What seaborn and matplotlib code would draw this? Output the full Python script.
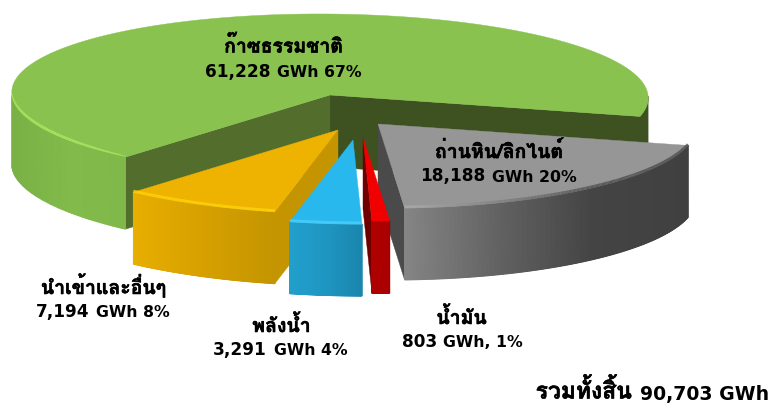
import numpy as np
import matplotlib
matplotlib.use("Agg")
import matplotlib.pyplot as plt
import matplotlib.patheffects as pe
from matplotlib.patches import Polygon
from matplotlib.collections import LineCollection
import seaborn as sns

# --- data -----------------------------------------------------------------
categories = ["ก๊าซธรรมชาติ", "ถ่านหิน/ลิกไนต์", "น้ำมัน", "พลังน้ำ", "นำเข้าและอื่นๆ"]
values = [61228, 18188, 803, 3291, 7194]
value_labels = ["61,228", "18,188", "803", "3,291", "7,194"]
share_labels = ["GWh 67%", "GWh 20%", "GWh, 1%", "GWh 4%", "GWh 8%"]
total_name = "รวมทั้งสิ้น"
total_value = "90,703 GWh"

# --- styles ---------------------------------------------------------------
top_colors = ["#89C24F", "#969696", "#F00000", "#29B8EE", "#EEB200"]
wall_stops = [["#7AB146", "#82BA4B", "#80B84A"], ["#858585", "#626262", "#444444", "#404040"],
              ["#B00000", "#A80000"], ["#229FCC", "#1F96C2", "#1A86AD"],
              ["#E8AE00", "#D6A000", "#C49500"]]
face_colors = [["#3D5220", "#526D2C"], ["#4A4A4A", "#4A4A4A"], ["#6E0000", "#6E0000"],
               ["#1A86AD", "#1A86AD"], ["#C49500", "#C49500"]]
rim_stops = [["#A4E25E", "#A4E25E"], ["#A8A8A8", "#5A5A5A", "#4A4A4A"], None,
             ["#52D4FF", "#52D4FF"], ["#FFD60A", "#FFD60A"]]
apex_x = [330, 378, 363, 353, 338]
apex_y = [95, 124, 137, 140, 130]
name_x = [283.5, 499, 461.5, 281.5, 103.5]
name_y = [52.5, 158, 324, 332, 294]
value_y = [77, 181.5, 347, 355, 317]
value_right = [270, 485, 437, 267, 89]
share_left = [277, 492, 443, 274, 96]

A, B, SHEAR, K, DEPTH = 318.0, 82.5, 11.0, 0.018, 72.0
START_DEG = -15.0
THAI = ["Loma", "DejaVu Sans"]
LATIN = ["DejaVu Sans"]
HEAVY = [pe.withStroke(linewidth=0.4, foreground="black")]

sns.set_theme(style="white")
plt.rcParams["font.family"] = THAI
fig = plt.figure(figsize=(7.71, 4.03), dpi=100)
ax = fig.add_axes([0, 0, 1, 1])
ax.axis("off")


def project(cx, cy, deg, r=1.0):
    t = np.radians(deg)
    u, v = r * np.cos(t), r * np.sin(t)
    return cx + A * u - SHEAR * v, cy - B * v / (1 + K * v)


def draw_wall(i, a, z, flat=None):
    cx, cy = apex_x[i], apex_y[i]
    x, y = project(cx, cy, a)
    if flat is not None:
        ax.add_patch(Polygon(np.r_[np.c_[x, y], np.c_[x, y + DEPTH][::-1]], closed=True,
                             fc=flat, ec=flat, lw=0.3, zorder=z))
        return
    X = np.vstack([x, x])
    Y = np.vstack([y, y + DEPTH])
    C = np.vstack([x, x])
    cmap = sns.blend_palette(wall_stops[i], 128, as_cmap=True)
    ax.pcolormesh(X, Y, C, cmap=cmap, shading="gouraud", zorder=z, antialiased=True)


def draw_rim(i, a, z, taper=False):
    if rim_stops[i] is None:
        return
    cx, cy = apex_x[i], apex_y[i]
    x, y = project(cx, cy, a)
    pts = np.c_[x, y - 1.0]
    segs = np.stack([pts[:-1], pts[1:]], axis=1)
    frac = np.linspace(0, 1, len(segs))
    pal = sns.blend_palette(rim_stops[i], 64)
    order = frac if x[-1] > x[0] else 1 - frac
    cols = [pal[int(f * 63)] for f in order]
    widths = 0.5 + 1.6 * np.sin(np.pi * frac) ** 0.6 if taper else np.full(len(segs), 2.1)
    ax.add_collection(LineCollection(segs, colors=cols, linewidths=widths, capstyle="butt", zorder=z))


def draw_slice(i, a0, a1, z):
    cx, cy = apex_x[i], apex_y[i]
    angs = np.linspace(a0, a1, 240)
    xs, ys = project(cx, cy, angs)

    # cut faces that look towards the viewer
    mx, my = project(cx, cy, (a0 + a1) / 2)
    mx, my = mx - cx, my - cy
    for k, ang in enumerate((a0, a1)):
        ex, ey = project(cx, cy, ang)
        dx, dy = ex - cx, ey - cy
        nx, ny = dy, -dx
        if nx * mx + ny * my > 0:
            nx, ny = -nx, -ny
        if ny > 0:
            ax.add_patch(Polygon([(cx, cy), (ex, ey), (ex, ey + DEPTH), (cx, cy + DEPTH)],
                                 closed=True, fc=face_colors[i][k], ec=face_colors[i][k],
                                 lw=0.3, zorder=z))

    # outer wall: the front half only
    s = np.sin(np.radians(angs))
    if i == 0:
        right = angs[(s < 0) & (angs < 90)]
        left = angs[(s < 0) & (angs > 90)]
        draw_wall(i, right, z + 0.1, flat=face_colors[0][0])
        draw_wall(i, left, z + 0.1)
        rim_arc, taper = left, True
    else:
        draw_wall(i, angs[s < 0], z + 0.1)
        rim_arc, taper = angs[s < 0], False

    # top surface and its bevel
    ax.add_patch(Polygon(np.r_[[(cx, cy)], np.c_[xs, ys]], closed=True,
                         fc=top_colors[i], ec=top_colors[i], lw=0.3, zorder=z + 0.2))
    draw_rim(i, rim_arc, z + 0.3, taper)


sweeps = np.array(values, float) / sum(values) * 360.0
bounds = [(START_DEG, START_DEG + sweeps[0])]
edge = START_DEG
for s in sweeps[1:]:
    bounds.append((edge - s, edge))
    edge -= s

for z, i in enumerate([0, 1, 2, 4, 3]):
    draw_slice(i, bounds[i][0], bounds[i][1], z + 1)

for i, cat in enumerate(categories):
    ax.text(name_x[i], name_y[i], cat, ha="center", va="baseline", fontsize=14,
            fontweight="bold", color="black", zorder=20, path_effects=HEAVY)
    ax.text(value_right[i], value_y[i], value_labels[i], ha="right", va="baseline", fontsize=12.2,
            fontweight="bold", family=LATIN, color="black", zorder=20)
    ax.text(share_left[i], value_y[i], share_labels[i], ha="left", va="baseline", fontsize=11.3,
            fontweight="bold", family=LATIN, color="black", zorder=20)

ax.text(769, 400, total_value, ha="right", va="baseline", fontsize=13.6, fontweight="bold",
        family=LATIN, color="black", zorder=20)
ax.text(632, 398.5, total_name, ha="right", va="baseline", fontsize=16.5, fontweight="bold",
        color="black", zorder=20, path_effects=HEAVY)

ax.set_xlim(0, 771)
ax.set_ylim(403, 0)
fig.savefig("out.png", dpi=100, facecolor="white")
